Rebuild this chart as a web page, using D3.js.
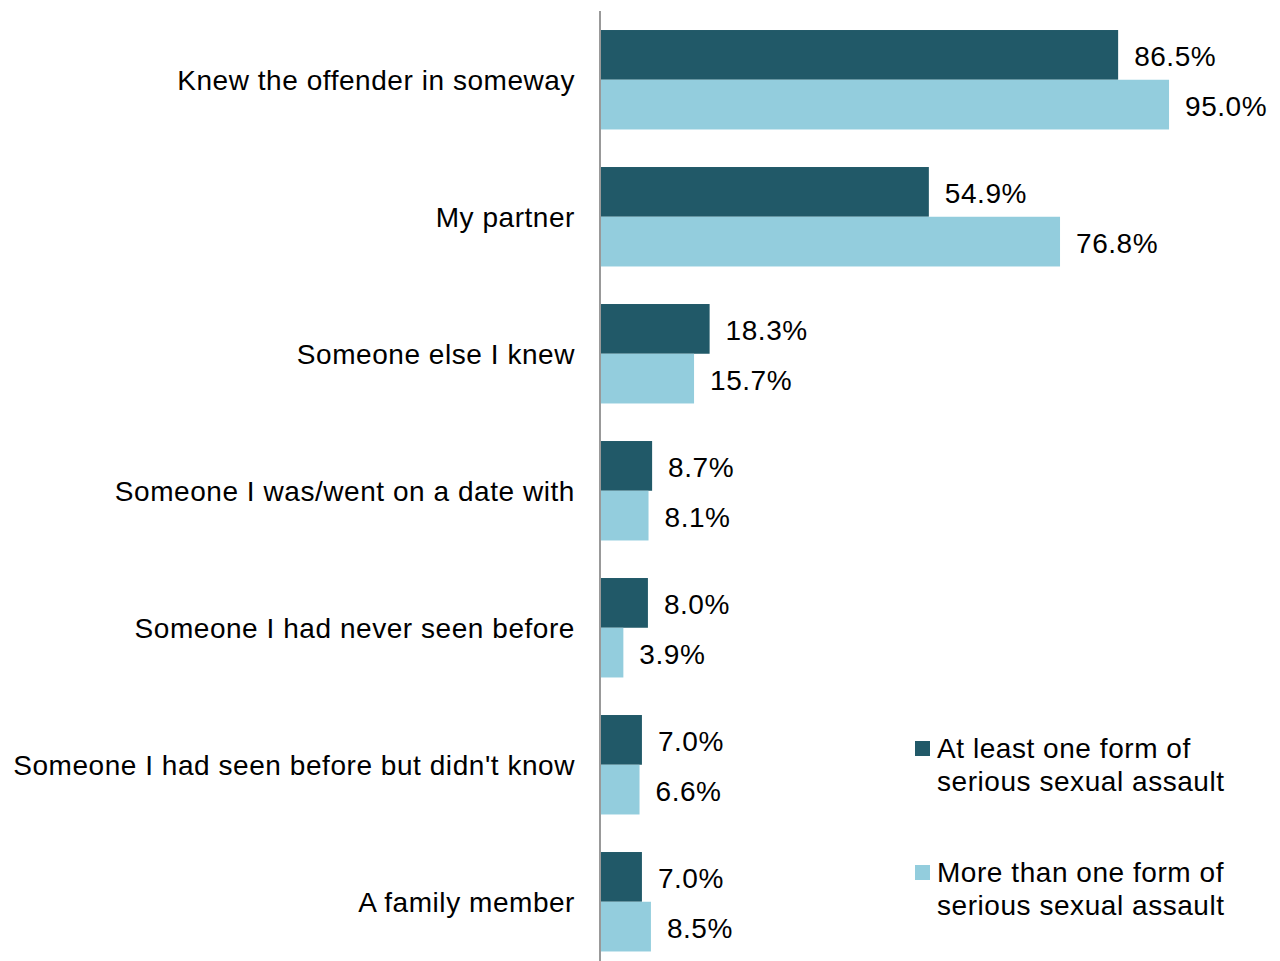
<!DOCTYPE html>
<html>
<head>
<meta charset="utf-8">
<script src="https://cdn.jsdelivr.net/npm/d3@7"></script>
<style>
  body { margin: 0; background: #fff; }
  svg text { font-family: "Liberation Sans", Arial, sans-serif; fill: #000; letter-spacing: 0.55px; }
</style>
</head>
<body>
<svg id="chart"></svg>
<script>
const categories = [
  "Knew the offender in someway",
  "My partner",
  "Someone else I knew",
  "Someone I was/went on a date with",
  "Someone I had never seen before",
  "Someone I had seen before but didn't know",
  "A family member"
]
const seriesNames = [
  ["At least one form of", "serious sexual assault"],
  ["More than one form of", "serious sexual assault"]
]
const atLeastOne = [86.5, 54.9, 18.3, 8.7, 8.0, 7.0, 7.0]
const moreThanOne = [95.0, 76.8, 15.7, 8.1, 3.9, 6.6, 8.5]
const colors = ["#215968", "#93cddd"]

var svgWidth = 1280, svgHeight = 961
var fontSize = 28

var svg = d3.select("#chart")
  .attr("width", svgWidth)
  .attr("height", svgHeight)

const rows = categories.map((c, i) => ({
  category: c,
  values: [atLeastOne[i], moreThanOne[i]]
}))

let x = d3.scaleLinear().domain([0, 100]).range([600, 1199])
let y = d3.scaleBand()
  .domain(categories)
  .range([11.25, 970.25])
  .paddingInner(0.274)
  .paddingOuter(0.137)
let ySub = d3.scaleBand()
  .domain([0, 1])
  .range([0, y.bandwidth()])

const groups = svg.selectAll("g.group")
  .data(rows)
  .enter().append("g")
  .attr("class", "group")
  .attr("transform", d => "translate(0," + y(d.category) + ")")

groups.selectAll("rect")
  .data(d => d.values)
  .enter().append("rect")
  .attr("x", x(0))
  .attr("y", (d, i) => ySub(i))
  .attr("width", d => x(d) - x(0))
  .attr("height", ySub.bandwidth())
  .attr("fill", (d, i) => colors[i])

groups.selectAll("text.value")
  .data(d => d.values)
  .enter().append("text")
  .attr("class", "value")
  .attr("x", d => x(d) + 16)
  .attr("y", (d, i) => ySub(i) + ySub.bandwidth() / 2)
  .attr("dy", "0.39em")
  .style("font-size", fontSize + "px")
  .text(d => d.toFixed(1) + "%")

// category axis
const yAxis = d3.axisLeft(y).tickSize(0).tickPadding(25)
const axisG = svg.append("g")
  .attr("transform", "translate(" + x(0) + ",0)")
  .call(yAxis)
axisG.select(".domain")
  .attr("d", "M0,11V961")
  .attr("stroke", "#999")
  .attr("stroke-width", 2)
axisG.selectAll(".tick text")
  .attr("font-family", null)
  .attr("font-size", null)
  .style("font-size", fontSize + "px")
  .attr("dy", "0.35em")

// legend
const legend = svg.selectAll("g.legend")
  .data(seriesNames)
  .enter().append("g")
  .attr("class", "legend")
  .attr("transform", (d, i) => "translate(915," + (741 + i * 124) + ")")

legend.append("rect")
  .attr("width", 15)
  .attr("height", 15)
  .attr("fill", (d, i) => colors[i])

legend.append("text")
  .attr("x", 22)
  .attr("y", 17)
  .style("font-size", fontSize + "px")
  .selectAll("tspan")
  .data(d => d)
  .enter().append("tspan")
  .attr("x", 22)
  .attr("dy", (d, i) => i === 0 ? 0 : 33)
  .text(d => d)
</script>
</body>
</html>
